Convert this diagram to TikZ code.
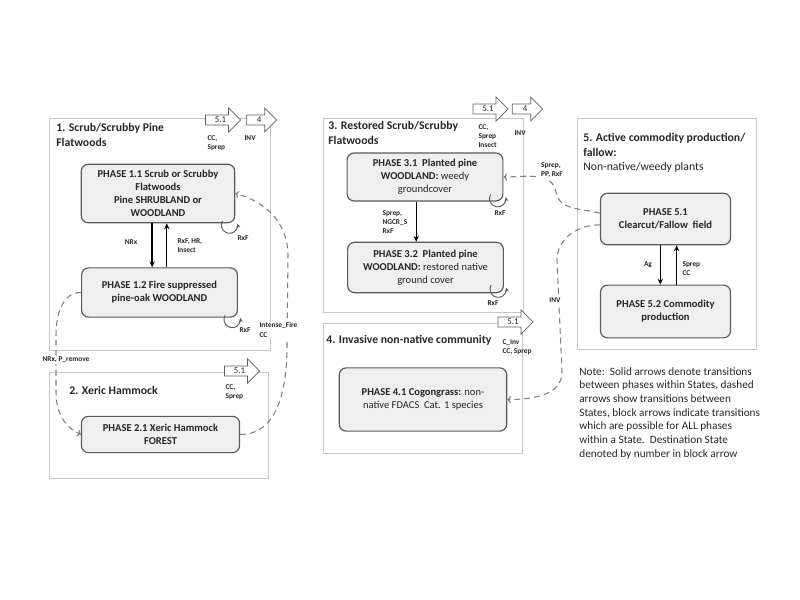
\documentclass[tikz,border=0pt]{standalone}
\usepackage{fontspec}
\setmainfont{Carlito}
\usetikzlibrary{shapes.arrows,arrows.meta}
\definecolor{boxgray}{HTML}{C8C8C8}
\definecolor{phasefill}{HTML}{EFEFEF}
\definecolor{phaseline}{HTML}{5A5A5A}
\definecolor{dashgray}{HTML}{808080}
\definecolor{arrline}{HTML}{606060}

\begin{document}
\begin{tikzpicture}
  [
  x=0.03cm, y=0.03cm, line width=0.6pt, text=black!85,
  statebox/.style={draw=boxgray, line width=0.8pt},
  phase/.style={rounded corners=6pt, draw=phaseline, fill=phasefill, line width=1pt,
    align=center, inner sep=2pt, font=\fontsize{9}{11}\selectfont\bfseries},
  title/.style={anchor=north west, align=left, inner sep=0pt,
    font=\fontsize{10}{12.5}\selectfont\bfseries},
  lbl/.style={align=left, inner sep=1pt, font=\fontsize{6.3}{7.8}\selectfont\bfseries},
  blockarr/.style={single arrow, draw=arrline, fill=white, line width=0.6pt,
    single arrow head extend=6pt, minimum height=30pt, inner sep=1.5pt,
    font=\fontsize{7.5}{8}\selectfont},
  within/.style={-{Stealth[length=5pt,width=4.5pt]}, line width=1.2pt},
  trans/.style={-{To[length=3pt]}, dash pattern=on 5pt off 3.5pt, draw=dashgray, line width=0.9pt},
  selfloop/.style={-{Stealth[length=3.5pt,width=3.5pt]}, line width=0.8pt, draw=phaseline}
  ]
\useasboundingbox (0,0) rectangle (800,-600);

% state boxes
\draw[statebox] (49,-118) rectangle (270,-350);
\draw[statebox] (49,-372) rectangle (268,-478);
\draw[statebox] (323,-118) rectangle (523,-312);
\draw[statebox] (323,-323) rectangle (522,-453);
\draw[statebox] (577,-118) rectangle (756,-349);

% state titles
\node[title] (t1) at (56,-123) {1. Scrub/Scrubby Pine\\Flatwoods};
\node[title, anchor=west] (t2) at (69,-390) {2. Xeric Hammock};
\node[title] (t3) at (328,-121) {3. Restored Scrub/Scrubby\\Flatwoods};
\node[title, anchor=west] (t4) at (326,-340) {4. Invasive non-native community};
\node[title] (t5) at (583,-133) {5. Active commodity production/\\fallow:\\{\mdseries Non-native/weedy plants}};

% phases
\node[phase, minimum width=131pt, minimum height=50pt] (p11) at (158,-193.5)
  {PHASE 1.1 Scrub or Scrubby\\Flatwoods\\Pine SHRUBLAND or\\WOODLAND};
\node[phase, minimum width=133pt, minimum height=42pt] (p12) at (159.5,-292.5)
  {PHASE 1.2 Fire suppressed\\pine-oak WOODLAND};
\node[phase, minimum width=135pt, minimum height=31pt] (p21) at (160.5,-434.5)
  {PHASE 2.1 Xeric Hammock\\FOREST};
\node[phase, minimum width=133pt, minimum height=41pt] (p31) at (425,-177)
  {PHASE 3.1\ \ Planted pine\\WOODLAND: {\mdseries weedy}\\{\mdseries groundcover}};
\node[phase, minimum width=133pt, minimum height=43pt] (p32) at (425.5,-267.5)
  {PHASE 3.2\ \ Planted pine\\WOODLAND: {\mdseries restored native}\\{\mdseries ground cover}};
\node[phase, minimum width=143pt, minimum height=54pt] (p41) at (423,-399.5)
  {PHASE 4.1 Cogongrass: {\mdseries non-}\\{\mdseries native FDACS\ \ Cat. 1 species}};
\node[phase, minimum width=111pt, minimum height=44pt] (p51) at (665.5,-219)
  {PHASE 5.1\\Clearcut/Fallow\ \ field};
\node[phase, minimum width=111pt, minimum height=45pt] (p52) at (665.5,-311.5)
  {PHASE 5.2 Commodity\\production};

% transitions within states
\draw[within] ([xshift=-5pt]p11.south) -- ([xshift=-5pt]p11.south |- p12.north);
\draw[within] ([xshift=7.5pt]p11.south |- p12.north) -- ([xshift=7.5pt]p11.south);
\draw[within] ([xshift=-7.5pt]p31.south) -- ([xshift=-7.5pt]p31.south |- p32.north);
\draw[within] ([xshift=-4.5pt]p51.south) -- ([xshift=-4.5pt]p51.south |- p52.north);
\draw[within] ([xshift=9.5pt]p51.south |- p52.north) -- ([xshift=9.5pt]p51.south);

\node[lbl] (l11a) at (131,-242) {NRx};
\node[lbl, anchor=west] (l11b) at (176,-246) {RxF, HR,\\Insect};
\node[lbl, anchor=west] (l31) at (381,-222) {Sprep,\\NGCR\_S\\RxF};
\node[lbl] (l51a) at (648,-265) {Ag};
\node[lbl, anchor=west] (l51b) at (681,-269) {Sprep\\CC};

% self loops
\foreach \p/\dy in {p11/2,p12/2,p31/6,p32/7} {
  \draw[selfloop] ([xshift=-11pt,yshift=\dy pt]\p.south east) arc[start angle=150, end angle=370, radius=7pt];
}
\node[lbl] (r11) at (243,-238) {RxF};
\node[lbl] (r12) at (245,-330) {RxF};
\node[lbl] (r31) at (500,-213) {RxF};
\node[lbl] (r32) at (493,-303) {RxF};

% transitions between states
\coordinate (if1) at (287,-345);
\coordinate (if2) at (288,-255);
\draw[trans] (p21.east) to[out=0,in=-90] (if1) -- (if2) to[out=90,in=-15] (p11.east);
\coordinate (np1) at (56,-335);
\coordinate (np2) at (56,-392);
\draw[trans] (p12.west) to[out=180,in=90] (np1) -- (np2) to[out=-90,in=155] (p21.west);
\coordinate (sp1) at (556,-192);
\draw[trans] ([yshift=5pt]p51.west) to[out=165,in=-80] (sp1) to[out=100,in=0] (p31.east);
\coordinate (iv1) at (557,-260);
\coordinate (iv2) at (562,-372);
\draw[trans] ([yshift=-5pt]p51.west) to[out=180,in=90] (iv1) -- (iv2) to[out=-90,in=0] (p41.east);

\node[lbl, fill=white, anchor=west] (l12) at (258,-330) {Intense\_Fire\\CC};
\node[lbl, fill=white] (l21) at (66,-360) {NRx, P\_remove};
\node[lbl, fill=white] (l53) at (552,-170) {Sprep,\\PP, RxF};
\node[lbl, fill=white, inner sep=2pt] (l54) at (555,-300) {INV};

% block arrows
\node[blockarr] (b1a) at (220.5,-120) {5.1};
\node[blockarr, minimum height=26pt] (b1b) at (259,-120) {4};
\node[blockarr] (b2a) at (239.5,-371) {5.1};
\node[blockarr] (b3a) at (488,-109) {5.1};
\node[blockarr, minimum height=26pt] (b3b) at (525,-109) {4};
\node[blockarr] (b4a) at (513,-322) {5.1};

\node[lbl, anchor=north west] (c1a) at (206,-134) {CC,\\Sprep};
\node[lbl, anchor=north west] (c1b) at (243,-134) {INV};
\node[lbl, anchor=north west] (c2a) at (224,-383) {CC,\\Sprep};
\node[lbl, anchor=north west] (c3a) at (477,-123) {CC,\\Sprep\\Insect};
\node[lbl, anchor=north west] (c3b) at (513,-129) {INV};
\node[lbl, anchor=north west] (c4a) at (501,-338) {C\_Inv\\CC, Sprep};

% note
\node[anchor=north west, align=left, inner sep=0pt, font=\fontsize{9.6}{11.7}\selectfont] (note) at (579,-367)
  {Note:\ \ Solid arrows denote transitions\\
   between phases within States, dashed\\
   arrows show transitions between\\
   States, block arrows indicate transitions\\
   which are possible for ALL phases\\
   within a State.\ \ Destination State\\
   denoted by number in block arrow};

\end{tikzpicture}
\end{document}
